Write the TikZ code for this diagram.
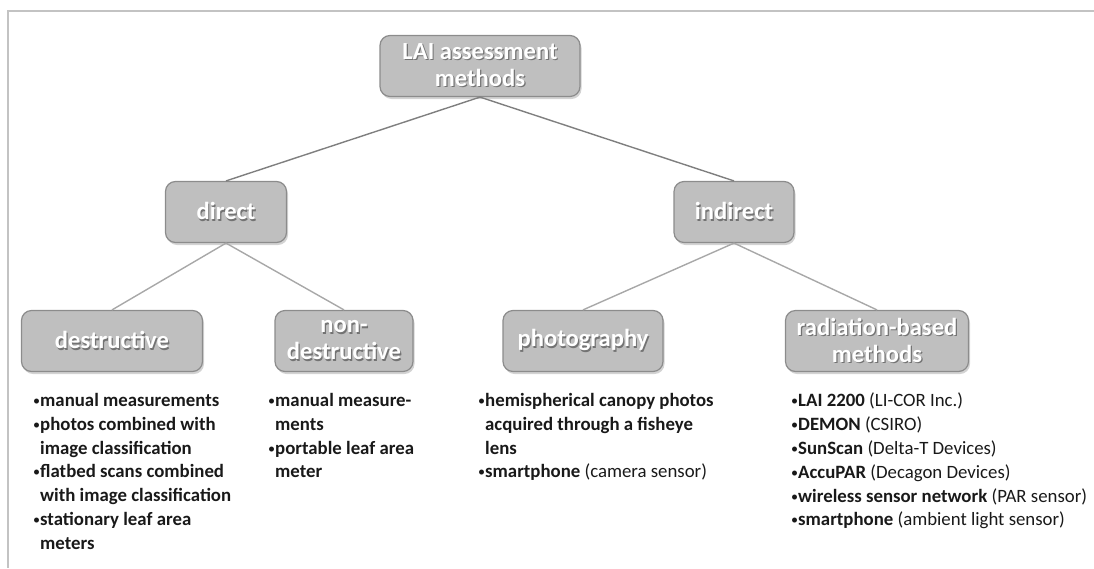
\documentclass[tikz,border=0pt]{standalone}
\usepackage{fontspec}
\setmainfont{Carlito}
\usetikzlibrary{shadows}
\definecolor{boxfill}{HTML}{BFBFBF}
\definecolor{boxdraw}{HTML}{8C8C8C}
\definecolor{framec}{HTML}{C3C3C3}
\definecolor{lineA}{HTML}{7F7F7F}
\definecolor{lineB}{HTML}{A8A8A8}
\newcommand\sht[1]{\rlap{\kern1.2pt\raisebox{-1.2pt}{\color{black!55}#1}}{\color{white}#1}}
\newcommand\bul{\makebox[7pt][l]{\raisebox{1pt}{\scalebox{0.75}{\textbullet}}}}
\newcommand\ind{\hspace*{7pt}}
\tikzset{
  methodbox/.style={draw=boxdraw, line width=1.2pt, fill=boxfill, rounded corners=10pt,
    minimum height=61pt, align=center, inner sep=2pt,
    font=\fontsize{24.6}{27}\selectfont\bfseries,
    drop shadow={shadow xshift=1.5pt, shadow yshift=-2.5pt, opacity=0.35}},
  listtext/.style={anchor=north west, inner sep=0pt, align=left,
    font=\fontsize{18.8}{23.8}\selectfont, text=black!90},
  topline/.style={draw=lineA, line width=1.4pt},
  lowline/.style={draw=lineB, line width=1.4pt},
}
\begin{document}
\begin{tikzpicture}[x=1pt,y=-1pt]
\useasboundingbox (0,0) rectangle (1094,568);
\draw[framec, line width=2pt] (1094,11) -- (8,11) -- (8,568);

\node[methodbox, minimum width=200pt] (lai) at (480,66) {\sht{LAI assessment}\\\sht{methods}};
\node[methodbox, minimum width=121pt] (direct) at (226,212) {\sht{direct}};
\node[methodbox, minimum width=120pt] (indirect) at (734,212) {\sht{indirect}};
\node[methodbox, minimum width=181pt] (destr) at (112,341) {\sht{destructive}};
\node[methodbox, minimum width=138pt] (nondestr) at (344,341) {\sht{non-}\\\sht{destructive}};
\node[methodbox, minimum width=160pt] (photo) at (583,341) {\sht{photography}};
\node[methodbox, minimum width=183pt] (rad) at (877,341) {\sht{radiation-based}\\\sht{methods}};

\draw[topline] (lai.south) -- (direct.north);
\draw[topline] (lai.south) -- (indirect.north);
\draw[lowline] (direct.south) -- (destr.north);
\draw[lowline] (direct.south) -- (nondestr.north);
\draw[lowline] (indirect.south) -- (photo.north);
\draw[lowline] (indirect.south) -- (rad.north);

\node[listtext] (l1) at (33,393) {\bul\textbf{manual measurements}\\
\bul\textbf{photos combined with}\\
\ind\textbf{image classification}\\
\bul\textbf{flatbed scans combined}\\
\ind\textbf{with image classification}\\
\bul\textbf{stationary leaf area}\\
\ind\textbf{meters}};
\node[listtext] (l2) at (268,393) {\bul\textbf{manual measure-}\\
\ind\textbf{ments}\\
\bul\textbf{portable leaf area}\\
\ind\textbf{meter}};
\node[listtext] (l3) at (478,393) {\bul\textbf{hemispherical canopy photos}\\
\ind\textbf{acquired through a fisheye}\\
\ind\textbf{lens}\\
\bul\textbf{smartphone} (camera sensor)};
\node[listtext] (l4) at (791,393) {\bul\textbf{LAI 2200} (LI-COR Inc.)\\
\bul\textbf{DEMON} (CSIRO)\\
\bul\textbf{SunScan} (Delta-T Devices)\\
\bul\textbf{AccuPAR} (Decagon Devices)\\
\bul\textbf{wireless sensor network} (PAR sensor)\\
\bul\textbf{smartphone} (ambient light sensor)};
\end{tikzpicture}
\end{document}
